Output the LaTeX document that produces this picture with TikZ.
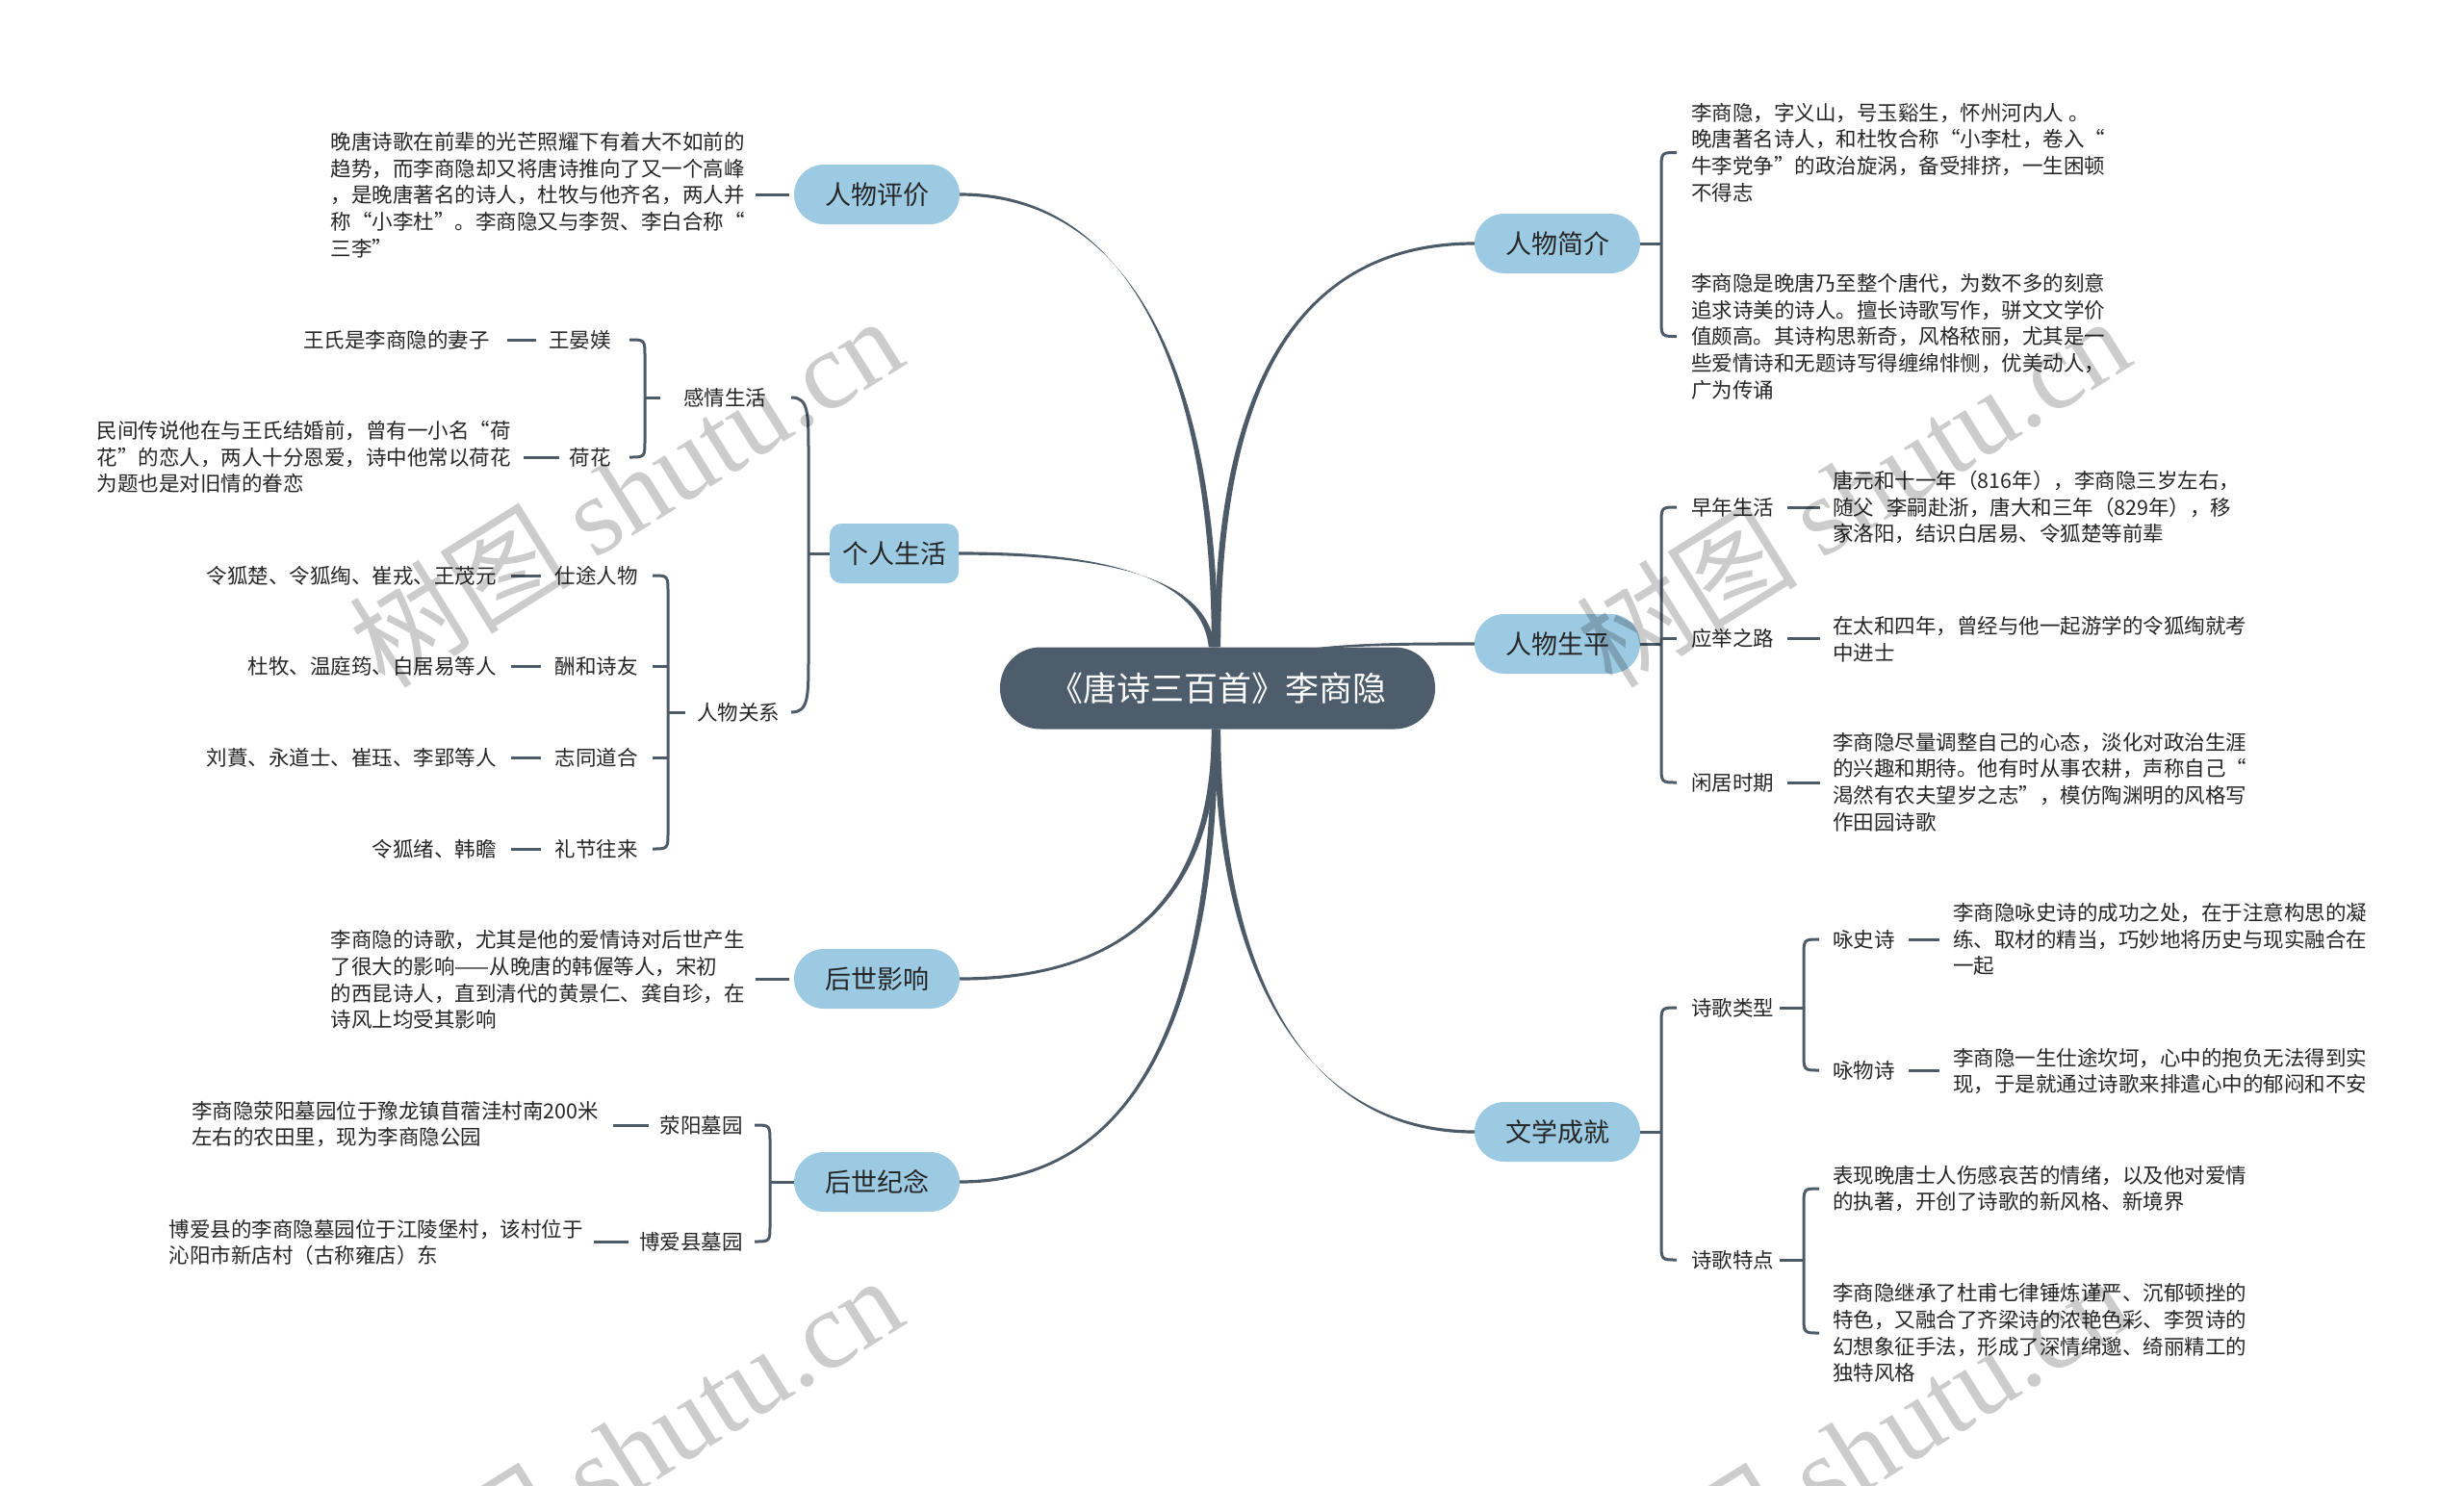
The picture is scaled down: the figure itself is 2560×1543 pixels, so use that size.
\documentclass[tikz,border=0pt]{standalone}
\usepackage{fontspec}
\setmainfont{Noto Sans CJK SC}
\newfontfamily\wmlatin{Liberation Serif}
\usetikzlibrary{calc}
\pgfdeclarelayer{bg}
\pgfsetlayers{bg,main}
\definecolor{linec}{HTML}{4D5B69}
\definecolor{topicc}{HTML}{9CCAE2}
\definecolor{centerc}{HTML}{4E5D6C}
\definecolor{txtc}{HTML}{262626}
% left bracket: children on the left
\newcommand\brL[5]{\draw[conn] ($(#1.east -| #3)+(-#4,0)$) .. controls (#1.east -| #3) .. ($(#1.east -| #3)+(0,#5)$) -- ($(#2.east -| #3)+(0,-#5)$) .. controls (#2.east -| #3) .. ($(#2.east -| #3)+(-#4,0)$);}
% right bracket: children on the right
\newcommand\brR[5]{\draw[conn] ($(#1.west -| #3)+(#4,0)$) .. controls (#1.west -| #3) .. ($(#1.west -| #3)+(0,#5)$) -- ($(#2.west -| #3)+(0,-#5)$) .. controls (#2.west -| #3) .. ($(#2.west -| #3)+(#4,0)$);}
% tapered main branch: start node anchor, control 1, control 2, end node anchor
\newcommand\taper[4]{\fill[linec] ($(#1)+(-3.2,0)$) .. controls ($(#2)+(-3.2,0)$) and ($(#3)+(0,-1.6)$) .. ($(#4)+(0,-1.6)$) -- ($(#4)+(0,1.6)$) .. controls ($(#3)+(0,1.6)$) and ($(#2)+(3.2,0)$) .. ($(#1)+(3.2,0)$) -- cycle;}
\begin{document}
\begin{tikzpicture}[x=1pt,y=-1pt,
  conn/.style={draw=linec, line width=3pt},
  topic/.style={fill=topicc, rounded corners=31pt, minimum width=172pt, minimum height=62pt, inner sep=0pt, font=\fontsize{27}{32}\selectfont, text=txtc},
  lab/.style={inner sep=0pt, font=\fontsize{21.5}{27.7}\selectfont, text=txtc},
  desc/.style={inner sep=0pt, align=left, font=\fontsize{21.5}{27.7}\selectfont, text=txtc},
  wm/.style={inner sep=0pt, text=black, text opacity=0.2, font=\fontsize{115}{115}\selectfont, rotate=32},
]
\useasboundingbox (0,0) rectangle (2560,1543);

% ---------- centre and topics ----------
\node[fill=centerc, rounded corners=42pt, minimum width=452pt, minimum height=85pt, inner sep=0pt, text=white, font=\fontsize{35}{40}\selectfont] (c) at (1265,715) {《唐诗三百首》李商隐};

\node[topic] (pj) at (911,202) {人物评价};
\node[topic, minimum width=134pt, rounded corners=12pt] (gr) at (929,575) {个人生活};
\node[topic] (hy) at (911,1017) {后世影响};
\node[topic] (hj) at (911,1228) {后世纪念};
\node[topic] (jj) at (1618,253) {人物简介};
\node[topic] (sp) at (1618,669) {人物生平};
\node[topic] (wx) at (1618,1176) {文学成就};

% ---------- left: 人物评价 ----------
\node[desc, anchor=east] (pjd) at (774,202.5) {晚唐诗歌在前辈的光芒照耀下有着大不如前的\\趋势，而李商隐却又将唐诗推向了又一个高峰\\，是晚唐著名的诗人，杜牧与他齐名，两人并\\称“小李杜”。李商隐又与李贺、李白合称“\\三李”};

% ---------- left: 个人生活 ----------
\node[lab] (gq) at (753,413) {感情生活};
\node[lab] (gx) at (767,740) {人物关系};
\node[lab, anchor=east] (wy) at (635,353) {王晏媄};
\node[lab, anchor=east] (hh) at (635,475) {荷花};
\node[lab, anchor=east] (wyd) at (509,353) {王氏是李商隐的妻子};
\node[desc, anchor=east] (hhd) at (531,475) {民间传说他在与王氏结婚前，曾有一小名“荷\\花”的恋人，两人十分恩爱，诗中他常以荷花\\为题也是对旧情的眷恋};

\node[lab, anchor=east] (st) at (663,598) {仕途人物};
\node[lab, anchor=east] (ch) at (663,692) {酬和诗友};
\node[lab, anchor=east] (zt) at (663,787) {志同道合};
\node[lab, anchor=east] (lj) at (663,882) {礼节往来};
\node[lab, anchor=east] (std) at (516,598) {令狐楚、令狐绹、崔戎、王茂元};
\node[lab, anchor=east] (chd) at (516,692) {杜牧、温庭筠、白居易等人};
\node[lab, anchor=east] (ztd) at (516,787) {刘蕡、永道士、崔珏、李郢等人};
\node[lab, anchor=east] (ljd) at (516,882) {令狐绪、韩瞻};

% ---------- left: 后世影响 / 后世纪念 ----------
\node[desc, anchor=east] (hyd) at (774,1018) {李商隐的诗歌，尤其是他的爱情诗对后世产生\\了很大的影响——从晚唐的韩偓等人，宋初\\的西昆诗人，直到清代的黄景仁、龚自珍，在\\诗风上均受其影响};

\node[lab, anchor=east] (xy) at (772,1169) {荥阳墓园};
\node[lab, anchor=east] (ba) at (772,1290) {博爱县墓园};
\node[desc, anchor=east] (xyd) at (622,1168) {李商隐荥阳墓园位于豫龙镇苜蓿洼村南200米\\左右的农田里，现为李商隐公园};
\node[desc, anchor=east] (bad) at (606,1291) {博爱县的李商隐墓园位于江陵堡村，该村位于\\沁阳市新店村（古称雍店）东};

% ---------- right: 人物简介 ----------
\node[desc, anchor=west] (jjd1) at (1757,158.5) {李商隐，字义山，号玉谿生，怀州河内人 。\\晚唐著名诗人，和杜牧合称“小李杜，卷入“\\牛李党争”的政治旋涡，备受排挤，一生困顿\\不得志};
\node[desc, anchor=west] (jjd2) at (1757,349.5) {李商隐是晚唐乃至整个唐代，为数不多的刻意\\追求诗美的诗人。擅长诗歌写作，骈文文学价\\值颇高。其诗构思新奇，风格秾丽，尤其是一\\些爱情诗和无题诗写得缠绵悱恻，优美动人，\\广为传诵};

% ---------- right: 人物生平 ----------
\node[lab, anchor=west] (zs) at (1757,527) {早年生活};
\node[lab, anchor=west] (yj) at (1757,663) {应举之路};
\node[lab, anchor=west] (xj) at (1757,813) {闲居时期};
\node[desc, anchor=west] (zsd) at (1904,527) {唐元和十一年（816年），李商隐三岁左右，\\随父\hspace{0.6em}李嗣赴浙，唐大和三年（829年），移\\家洛阳，结识白居易、令狐楚等前辈};
\node[desc, anchor=west] (yjd) at (1904,664) {在太和四年，曾经与他一起游学的令狐绹就考\\中进士};
\node[desc, anchor=west] (xjd) at (1904,812.5) {李商隐尽量调整自己的心态，淡化对政治生涯\\的兴趣和期待。他有时从事农耕，声称自己“\\渴然有农夫望岁之志”，模仿陶渊明的风格写\\作田园诗歌};

% ---------- right: 文学成就 ----------
\node[lab, anchor=west] (lx) at (1757,1047) {诗歌类型};
\node[lab, anchor=west] (td) at (1757,1309) {诗歌特点};
\node[lab, anchor=west] (ys) at (1904,976) {咏史诗};
\node[lab, anchor=west] (yw) at (1904,1112) {咏物诗};
\node[desc, anchor=west] (ysd) at (2029,976) {李商隐咏史诗的成功之处，在于注意构思的凝\\练、取材的精当，巧妙地将历史与现实融合在\\一起};
\node[desc, anchor=west] (ywd) at (2029,1113) {李商隐一生仕途坎坷，心中的抱负无法得到实\\现，于是就通过诗歌来排遣心中的郁闷和不安};
\node[desc, anchor=west] (td1) at (1904,1235) {表现晚唐士人伤感哀苦的情绪，以及他对爱情\\的执著，开创了诗歌的新风格、新境界};
\node[desc, anchor=west] (td2) at (1904,1385) {李商隐继承了杜甫七律锤炼谨严、沉郁顿挫的\\特色，又融合了齐梁诗的浓艳色彩、李贺诗的\\幻想象征手法，形成了深情绵邈、绮丽精工的\\独特风格};

% ---------- bracket positions ----------
\coordinate (gqb) at (670,0);
\coordinate (gxb) at (694,0);
\coordinate (grb) at (840,0);
\coordinate (hjb) at (800,0);
\coordinate (jjb) at (1726,0);
\coordinate (spb) at (1726,0);
\coordinate (wxb) at (1726,0);
\coordinate (lxb) at (1874,0);
\coordinate (tdb) at (1874,0);
% control points of the main branches
\coordinate (k1a) at (1262,400);  \coordinate (k1b) at (1180,202);
\coordinate (k2a) at (1250,590);  \coordinate (k2b) at (1120,575);
\coordinate (k3a) at (1262,950);  \coordinate (k3b) at (1150,1017);
\coordinate (k4a) at (1262,1050); \coordinate (k4b) at (1180,1228);
\coordinate (k5a) at (1265,400);  \coordinate (k5b) at (1350,253);
\coordinate (k6a) at (1300,669);  \coordinate (k6b) at (1400,669);
\coordinate (k7a) at (1265,1000); \coordinate (k7b) at (1350,1176);

\begin{pgfonlayer}{bg}
\fill[white] (0,0) rectangle (2560,1543);
% main tapered curves
\taper{$(c.north)+(-3,0)$}{k1a}{k1b}{pj.east}
\taper{$(c.north)+(-6,0)$}{k2a}{k2b}{gr.east}
\taper{$(c.south)+(-3,0)$}{k3a}{k3b}{hy.east}
\taper{$(c.south)+(-3,0)$}{k4a}{k4b}{hj.east}
\taper{c.north}{k5a}{k5b}{jj.west}
\taper{c.center}{k6a}{k6b}{sp.west}
\taper{c.south}{k7a}{k7b}{wx.west}

% 人物评价
\draw[conn, shorten <=5pt, shorten >=11pt] (pj.west) -- (pjd.east |- pj.west);
% 个人生活
\draw[conn] ($(gq.east -| grb)+(-18,0)$) .. controls (gq.east -| grb) and ($(gq.east -| grb)+(0,15)$) .. ($(gq.east -| grb)+(0,60)$) -- ($(gx.east -| grb)+(0,-60)$) .. controls ($(gx.east -| grb)+(0,-15)$) and (gx.east -| grb) .. ($(gx.east -| grb)+(-18,0)$);
\draw[conn] (gr.west -| grb) -- (gr.west);
\brL{wy}{hh}{gqb}{16}{18}
\draw[conn] (gq.west -| gqb) -- ($(gq.west)+(-24,0)$);
\draw[conn, shorten <=13pt, shorten >=18pt] (wy.west) -- (wyd.east |- wy.west);
\draw[conn, shorten <=11pt, shorten >=13pt] (hh.west) -- (hhd.east |- hh.west);
\brL{st}{lj}{gxb}{16}{18}
\draw[conn] (ch.east -| gxb) -- ($(ch.east -| gxb)+(-16,0)$);
\draw[conn] (zt.east -| gxb) -- ($(zt.east -| gxb)+(-16,0)$);
\draw[conn] (gx.west -| gxb) -- ($(gx.west)+(-12,0)$);
\foreach \a/\b in {st/std,ch/chd,zt/ztd,lj/ljd}
  \draw[conn, shorten <=15pt, shorten >=15pt] (\a.west) -- (\b.east |- \a.west);
% 后世影响
\draw[conn, shorten <=5pt, shorten >=11pt] (hy.west) -- (hyd.east |- hy.west);
% 后世纪念
\brL{xy}{ba}{hjb}{16}{18}
\draw[conn] (hj.west -| hjb) -- (hj.west);
\draw[conn, shorten <=12pt, shorten >=15pt] (xy.west) -- (xyd.east |- xy.west);
\draw[conn, shorten <=11pt, shorten >=11pt] (ba.west) -- (bad.east |- ba.west);
% 人物简介
\brR{jjd1}{jjd2}{jjb}{16}{18}
\draw[conn] (jj.east) -- (jj.east -| jjb);
% 人物生平
\brR{zs}{xj}{spb}{16}{18}
\draw[conn] (sp.east) -- (sp.east -| spb);
\draw[conn] (yj.west -| spb) -- ($(yj.west -| spb)+(16,0)$);
\foreach \a/\b in {zs/zsd,yj/yjd,xj/xjd}
  \draw[conn, shorten <=14pt, shorten >=13pt] (\a.east) -- (\b.west |- \a.east);
% 文学成就
\brR{lx}{td}{wxb}{16}{18}
\draw[conn] (wx.east) -- (wx.east -| wxb);
\brR{ys}{yw}{lxb}{16}{18}
\draw[conn, shorten <=6pt] (lx.east) -- (lx.east -| lxb);
\foreach \a/\b in {ys/ysd,yw/ywd}
  \draw[conn, shorten <=14pt, shorten >=14pt] (\a.east) -- (\b.west |- \a.east);
\brR{td1}{td2}{tdb}{16}{18}
\draw[conn, shorten <=6pt] (td.east) -- (td.east -| tdb);
\end{pgfonlayer}

% ---------- watermarks ----------
\node[wm] (wm1) at (650,510) {树图 {\wmlatin shutu.cn}};
\node[wm] (wm2) at (1925,510) {树图 {\wmlatin shutu.cn}};
\node[wm] (wm3) at (650,1507) {树图 {\wmlatin shutu.cn}};
\node[wm] (wm4) at (1925,1507) {树图 {\wmlatin shutu.cn}};
\end{tikzpicture}
\end{document}
